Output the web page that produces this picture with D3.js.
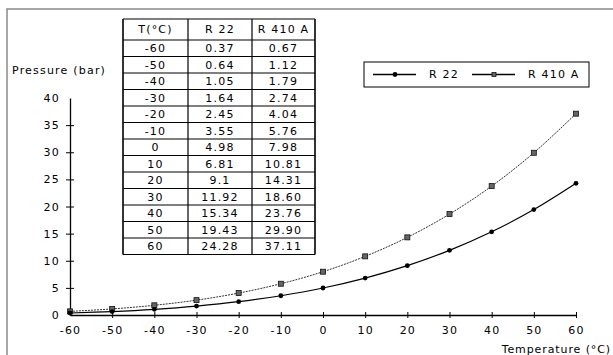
<!DOCTYPE html>
<html>
<head>
<meta charset="utf-8">
<script src="https://cdn.jsdelivr.net/npm/d3@7"></script>
<style>
  body { margin: 0; background: #fff; }
  svg text { font-family: 'DejaVu Sans', sans-serif; font-size: 11px; fill: #000; letter-spacing: 1.2px; }
  .domain { stroke: #000; }
</style>
</head>
<body>
<div id="chart"></div>
<script>
// data
const temps = [-60, -50, -40, -30, -20, -10, 0, 10, 20, 30, 40, 50, 60];
const r22 = [0.37, 0.64, 1.05, 1.64, 2.45, 3.55, 4.98, 6.81, 9.1, 11.92, 15.34, 19.43, 24.28];
const r410a = [0.67, 1.12, 1.79, 2.74, 4.04, 5.76, 7.98, 10.81, 14.31, 18.60, 23.76, 29.90, 37.11];
const xTicks = [-60, -50, -40, -30, -20, -10, 0, 10, 20, 30, 40, 50, 60];
const yTicks = [0, 5, 10, 15, 20, 25, 30, 35, 40];
const tableHeader = ['T(°C)', 'R 22', 'R 410 A'];
const seriesNames = ['R 22', 'R 410 A'];

const W = 613, H = 355;
const svg = d3.select('#chart').append('svg')
  .attr('width', W)
  .attr('height', H);

// outer frame (right/bottom fall off the picture)
svg.append('rect')
  .attr('x', 7).attr('y', 9)
  .attr('width', 620).attr('height', 360)
  .attr('fill', 'none')
  .attr('stroke', '#8a8a8a')
  .attr('stroke-width', 1.5);

// scales
const x = d3.scaleLinear().domain([-60, 60]).range([70, 576]);
const y = d3.scaleLinear().domain([0, 40]).range([315, 98]);

// plain hyphen for negatives, like the original
const fmt = d => String(d);

// y axis
const yAxis = svg.append('g')
  .attr('transform', `translate(${x(-60)},0)`)
  .call(d3.axisLeft(y).tickValues(yTicks).tickSize(0).tickPadding(10).tickFormat(fmt));
yAxis.selectAll('.tick').filter(d => d > 0 && d < 40)
  .append('line')
  .attr('x1', -4).attr('x2', 4)
  .attr('stroke', '#000');

// x axis
const xAxis = svg.append('g')
  .attr('transform', `translate(0,${y(0)})`)
  .call(d3.axisBottom(x).tickValues(xTicks).tickSize(0).tickPadding(11).tickFormat(fmt));
xAxis.selectAll('.tick').filter(d => d > -60)
  .append('line')
  .attr('y1', -3).attr('y2', 3)
  .attr('stroke', '#000');
svg.selectAll('.domain').attr('stroke-width', 1.3);

// axis titles
svg.append('text')
  .attr('x', 12).attr('y', 74)
  .text('Pressure (bar)');
svg.append('text')
  .attr('x', 611).attr('y', 353)
  .attr('text-anchor', 'end')
  .style('letter-spacing', '0.9px')
  .text('Temperature (°C)');

// curves
const line = d3.line()
  .x((d, i) => x(temps[i]))
  .y(d => y(d))
  .curve(d3.curveCatmullRom);

svg.append('path')
  .datum(r410a)
  .attr('d', line)
  .attr('fill', 'none')
  .attr('stroke', '#333')
  .attr('stroke-width', 1)
  .attr('stroke-dasharray', '2,1');

svg.append('path')
  .datum(r22)
  .attr('d', line)
  .attr('fill', 'none')
  .attr('stroke', '#000')
  .attr('stroke-width', 1.2);

// markers
svg.append('g').selectAll('rect')
  .data(r410a)
  .join('rect')
  .attr('x', (d, i) => x(temps[i]) - 2.5)
  .attr('y', d => y(d) - 2.5)
  .attr('width', 5).attr('height', 5)
  .attr('fill', '#666')
  .attr('stroke', '#111')
  .attr('stroke-width', 0.8);

svg.append('g').selectAll('circle')
  .data(r22)
  .join('circle')
  .attr('cx', (d, i) => x(temps[i]))
  .attr('cy', d => y(d))
  .attr('r', 2.4)
  .attr('fill', '#000');

// data table
const colX = [123, 188, 252, 315];
const rowY = d3.scaleBand().domain(temps).range([40, 254.5]);
const table = svg.append('g');

table.append('rect')
  .attr('x', colX[0]).attr('y', 19)
  .attr('width', colX[3] - colX[0]).attr('height', 254.5 - 19)
  .attr('fill', '#fff');

const rowLines = [19].concat(temps.map(t => rowY(t)), [254.5]);
table.selectAll('line.row')
  .data(rowLines)
  .join('line')
  .attr('class', 'row')
  .attr('x1', colX[0]).attr('x2', colX[3])
  .attr('y1', d => d).attr('y2', d => d)
  .attr('stroke', '#000')
  .attr('stroke-width', 1.2);

table.selectAll('line.col')
  .data(colX)
  .join('line')
  .attr('class', 'col')
  .attr('x1', d => d).attr('x2', d => d)
  .attr('y1', 19).attr('y2', 254.5)
  .attr('stroke', '#000')
  .attr('stroke-width', (d, i) => (i === 0 || i === 3) ? 1.6 : 1.2);

const colMid = i => (colX[i] + colX[i + 1]) / 2;

table.selectAll('text.head')
  .data(tableHeader)
  .join('text')
  .attr('class', 'head')
  .attr('x', (d, i) => colMid(i))
  .attr('y', 29.5)
  .attr('dy', '0.35em')
  .attr('text-anchor', 'middle')
  .text(d => d);

const rows = temps.map((t, i) => [String(t), String(r22[i]), r410a[i].toFixed(2)]);
rows.forEach((r, ri) => {
  table.selectAll(null)
    .data(r)
    .join('text')
    .attr('x', (d, i) => colMid(i))
    .attr('y', rowY(temps[ri]) + rowY.bandwidth() / 2)
    .attr('dy', '0.36em')
    .attr('text-anchor', 'middle')
    .text(d => d);
});

// legend
const legend = svg.append('g');
legend.append('rect')
  .attr('x', 364).attr('y', 62)
  .attr('width', 225).attr('height', 25)
  .attr('fill', '#fff')
  .attr('stroke', '#000')
  .attr('stroke-width', 1);

const legX = [373, 472];
legend.selectAll('line')
  .data(seriesNames)
  .join('line')
  .attr('x1', (d, i) => legX[i]).attr('x2', (d, i) => legX[i] + 43)
  .attr('y1', 74.5).attr('y2', 74.5)
  .attr('stroke', '#000')
  .attr('stroke-width', 1.3);
legend.append('circle')
  .attr('cx', legX[0] + 22).attr('cy', 74.5).attr('r', 2.4)
  .attr('fill', '#000');
legend.append('rect')
  .attr('x', legX[1] + 20).attr('y', 72.5)
  .attr('width', 4).attr('height', 4)
  .attr('fill', '#666').attr('stroke', '#111').attr('stroke-width', 0.8);
legend.selectAll('text')
  .data(seriesNames)
  .join('text')
  .attr('x', (d, i) => legX[i] + 56)
  .attr('y', 74.5)
  .attr('dy', '0.35em')
  .text(d => d);
</script>
</body>
</html>
